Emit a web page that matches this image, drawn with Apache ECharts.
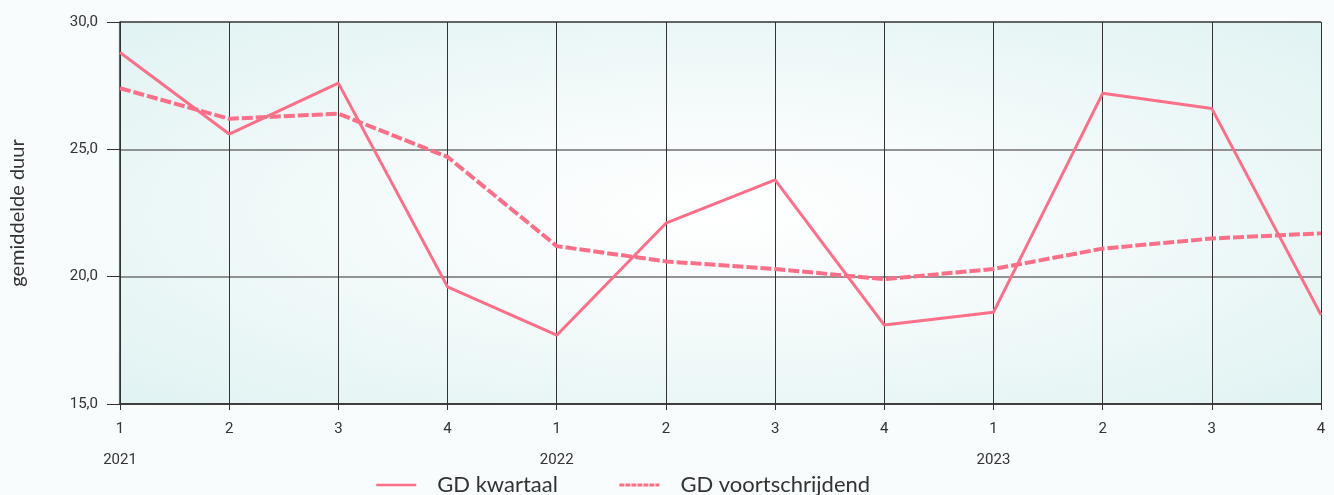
<!DOCTYPE html>
<html>
<head>
<meta charset="utf-8">
<script src="https://cdn.jsdelivr.net/npm/echarts@6/dist/echarts.min.js"></script>
<style>
html,body{margin:0;padding:0;background:#f8fcfc;}
#chart{width:1334px;height:495px;}
</style>
</head>
<body>
<div id="chart"></div>
<script>
const quarters = ['1','2','3','4','1','2','3','4','1','2','3','4'];
const years = ['2021','','','','2022','','','','2023','','',''];
const gdKwartaal = [28.8, 25.6, 27.6, 19.6, 17.7, 22.1, 23.8, 18.1, 18.6, 27.2, 26.6, 18.5];
const gdVoortschrijdend = [27.4, 26.2, 26.4, 24.7, 21.2, 20.6, 20.3, 19.9, 20.3, 21.1, 21.5, 21.7];
const yTicks = {min: 15, max: 30, interval: 5};
const seriesNames = ['GD kwartaal', 'GD voortschrijdend'];
const yName = 'gemiddelde duur';

const lineColor = '#fb6f88';
const categories = quarters.map((q, i) => i);

const G = {left: 118, right: 13, top: 22, bottom: 91};
const W = 1334, H = 495;
const gw = W - G.left - G.right, gh = H - G.top - G.bottom;

const chart = echarts.init(document.getElementById('chart'));
chart.setOption({
  backgroundColor: '#f8fcfc',
  animation: false,
  grid: {left: G.left, right: G.right, top: G.top, bottom: G.bottom},
  graphic: [{
    type: 'rect', z: -10, silent: true,
    x: G.left, y: G.top,
    scaleY: gh / gw,
    shape: {x: 0, y: 0, width: gw, height: gw},
    style: {
      fill: {
        type: 'radial', x: 0.5, y: 0.5, r: 0.72,
        colorStops: [{offset: 0, color: '#ffffff'}, {offset: 0.35, color: '#f6fbfb'}, {offset: 1, color: '#e0f2f2'}]
      }
    }
  }],
  legend: {
    bottom: -6,
    left: 370,
    itemWidth: 40,
    itemHeight: 14,
    itemGap: 60,
    itemStyle: {opacity: 0},
    textStyle: {fontFamily: 'Lato', fontSize: 22, color: '#333', padding: [0, 0, 0, 16]},
    data: [
      {name: seriesNames[0], lineStyle: {width: 2.5}},
      {name: seriesNames[1], lineStyle: {width: 3, type: [5, 1]}}
    ]
  },
  xAxis: {
    type: 'category',
    boundaryGap: false,
    data: categories,
    axisLine: {lineStyle: {color: '#333', width: 1.5}},
    axisTick: {show: true, alignWithLabel: true, length: 6, lineStyle: {color: '#333'}},
    splitLine: {show: true, lineStyle: {color: '#333', width: 1}},
    axisLabel: {
      margin: 12,
      interval: 0,
      formatter: function (v, i) {
        return years[i] ? '{q|' + quarters[i] + '}\n{y|' + years[i] + '}' : '{q|' + quarters[i] + '}';
      },
      rich: {
        q: {fontFamily: 'Roboto', fontSize: 15, color: '#333', lineHeight: 26},
        y: {fontFamily: 'Roboto', fontSize: 15, color: '#333', lineHeight: 36}
      }
    }
  },
  yAxis: {
    type: 'value',
    min: yTicks.min, max: yTicks.max, interval: yTicks.interval,
    name: yName,
    nameLocation: 'middle',
    nameGap: 92,
    nameTextStyle: {fontFamily: 'Lato', fontSize: 20, color: '#333'},
    axisLine: {show: true, lineStyle: {color: '#333', width: 1.5}},
    axisTick: {show: true, length: 13, lineStyle: {color: '#333'}},
    splitLine: {show: true, lineStyle: {color: ['#333', '#707070', '#707070', '#333'], width: 1.5}},
    axisLabel: {
      margin: 22,
      fontFamily: 'Roboto', fontSize: 15, color: '#333',
      formatter: v => v.toFixed(1).replace('.', ',')
    }
  },
  series: [
    {
      name: seriesNames[0], type: 'line', data: gdKwartaal,
      symbol: 'none', color: lineColor,
      lineStyle: {color: lineColor, width: 3}
    },
    {
      name: seriesNames[1], type: 'line', data: gdVoortschrijdend,
      symbol: 'none', color: lineColor,
      lineStyle: {color: lineColor, width: 4, type: [11, 3]}
    }
  ]
});
</script>
</body>
</html>
